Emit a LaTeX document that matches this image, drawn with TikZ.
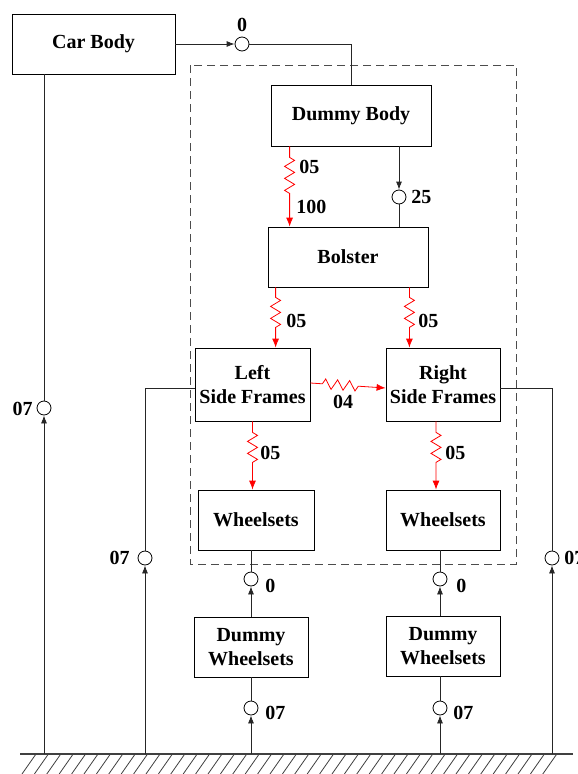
\documentclass[tikz,border=0pt]{standalone}
\usepackage{fontspec}
\setmainfont{Liberation Serif}
\usetikzlibrary{arrows.meta,decorations.pathmorphing,positioning,calc}
\tikzset{every picture/.style={line width=0.8pt}}

\begin{document}
\begin{tikzpicture}[x=1pt,y=-1pt,
    blk/.style={draw,rectangle,inner sep=0pt,align=center,font=\bfseries\fontsize{20}{24}\selectfont},
    jnt/.style={draw,circle,minimum size=14pt,inner sep=0pt,fill=white},
    lbl/.style={inner sep=0pt,font=\bfseries\fontsize{20}{24}\selectfont},
    wire/.style={black!85},
    arr/.style={wire,-{Latex[length=8pt,width=6pt]}},
    spr/.style 2 args={red,-{Latex[length=9pt,width=7pt]},decorate,
        decoration={zigzag,segment length=12pt,amplitude=5pt,pre length=#1,post length=#2}}]
    \useasboundingbox (0,0) rectangle (578,774);

    % 虚线框
    \draw[black!70, dash pattern=on 8pt off 5pt] (190,65) rectangle (516,564);

    % 绘制各部件
    \node[blk, minimum width=163pt, minimum height=60pt] (carbody) at (93.5,44) {Car Body};
    \node[blk, minimum width=160pt, minimum height=61pt] (dummybody) at (351,115.5) {Dummy Body};
    \node[blk, minimum width=160pt, minimum height=60pt] (bolster) at (348,257) {Bolster};
    \node[blk, minimum width=115pt, minimum height=73pt] (lsf) at (252.5,384.5) {Left\\Side Frames};
    \node[blk, minimum width=114pt, minimum height=73pt] (rsf) at (443,384.5) {Right\\Side Frames};
    \node[blk, minimum width=116pt, minimum height=60pt] (lws) at (256,520) {Wheelsets};
    \node[blk, minimum width=114pt, minimum height=60pt] (rws) at (443,520) {Wheelsets};
    \node[blk, minimum width=114pt, minimum height=60pt] (ldws) at (251,647) {Dummy\\Wheelsets};
    \node[blk, minimum width=114pt, minimum height=60pt] (rdws) at (443,646) {Dummy\\Wheelsets};

    % 铰接点
    \node[jnt] (j0) at (242,44) {};
    \node[jnt] (j25) at (399,197) {};
    \node[jnt] (jcb) at (44,408) {};
    \node[jnt] (jl) at (145,558) {};
    \node[jnt] (jr) at (552,558) {};
    \node[jnt] (jwl) at (251,579) {};
    \node[jnt] (jwr) at (440,579) {};
    \node[jnt] (jdl) at (251,708) {};
    \node[jnt] (jdr) at (440,708) {};

    % 地面
    \coordinate (gnd) at (0,754);
    \draw[black!75, line width=1.5pt] (20,754) -- (573,754);
    \foreach \hx in {36,48.4,...,566}
        \draw[black!75] (\hx,754) -- ++(-14,20);

    % 连接线
    \draw[arr] (carbody) -- (j0);
    \draw[wire] (j0) -- (j0 -| dummybody.north) -- (dummybody.north);
    \draw[arr] (dummybody.south -| j25) -- (j25);
    \draw[wire] (j25) -- (j25 |- bolster.north);
    \draw[wire] (carbody.south -| jcb) -- (jcb);
    \draw[arr] (jcb |- gnd) -- (jcb);
    \draw[wire] ([yshift=-4pt]lsf.west) -- ([yshift=-4pt]lsf.west -| jl) -- (jl);
    \draw[arr] (jl |- gnd) -- (jl);
    \draw[wire] ([yshift=-4pt]rsf.east) -- ([yshift=-4pt]rsf.east -| jr) -- (jr);
    \draw[arr] (jr |- gnd) -- (jr);
    \draw[wire] (lws.south -| jwl) -- (jwl);
    \draw[arr] (ldws.north -| jwl) -- (jwl);
    \draw[wire] (rws.south -| jwr) -- (jwr);
    \draw[arr] (rdws.north -| jwr) -- (jwr);
    \draw[wire] (ldws.south -| jdl) -- (jdl);
    \draw[arr] (jdl |- gnd) -- (jdl);
    \draw[wire] (rdws.south -| jdr) -- (jdr);
    \draw[arr] (jdr |- gnd) -- (jdr);

    % 弹簧
    \coordinate (s1) at ([xshift=19pt]dummybody.south west);
    \coordinate (s2) at ([xshift=8pt]bolster.south west);
    \coordinate (s3) at ([xshift=-19pt]bolster.south east);
    \coordinate (s5) at ([xshift=-7pt]rsf.south);
    \draw[spr={11pt}{29pt}] (s1) -- (s1 |- bolster.north);
    \draw[spr={10pt}{18pt}] (s2) -- (s2 |- lsf.north);
    \draw[spr={10pt}{18pt}] (s3) -- (s3 |- rsf.north);
    \draw[spr={11pt}{22pt}] (lsf.south) -- (lsf.south |- lws.north);
    \draw[spr={11pt}{22pt}] (s5) -- (s5 |- rws.north);
    \draw[spr={12pt}{26pt}] ([yshift=1.5pt]lsf.east) -- ([yshift=-3.5pt]rsf.west);

    % 标注
    \node[lbl] (t0) at (242,25) {0};
    \node[lbl, anchor=west] (t05a) at (299,167) {05};
    \node[lbl, anchor=west] (t100) at (296,207) {100};
    \node[lbl, anchor=west] (t25) at (411,197) {25};
    \node[lbl, anchor=west] (t05b) at (286,321) {05};
    \node[lbl, anchor=west] (t05c) at (418,321) {05};
    \node[lbl] (t04) at (343,402) {04};
    \node[lbl, anchor=west] (t05d) at (260,453) {05};
    \node[lbl, anchor=west] (t05e) at (445,453) {05};
    \node[lbl, anchor=east] (t07a) at (33,409) {07};
    \node[lbl, anchor=east] (t07b) at (130,558) {07};
    \node[lbl, anchor=west] (t07c) at (564,558) {07};
    \node[lbl, anchor=west] (t0l) at (265,586) {0};
    \node[lbl, anchor=west] (t0r) at (456,586) {0};
    \node[lbl, anchor=west] (t07d) at (265,713) {07};
    \node[lbl, anchor=west] (t07e) at (453,713) {07};
\end{tikzpicture}
\end{document}
